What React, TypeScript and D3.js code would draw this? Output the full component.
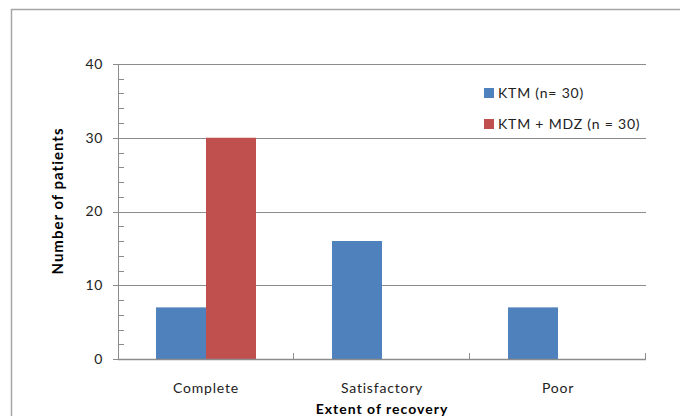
import React, { useEffect, useRef } from "react";
import * as d3 from "d3";

// data
const categories: string[] = ["Complete", "Satisfactory", "Poor"];
const seriesNames: string[] = ["KTM (n= 30)", "KTM + MDZ (n = 30)"];
const ktmValues: number[] = [7, 16, 7];
const ktmMdzValues: number[] = [30, 0, 0];
const yTicks: number[] = [0, 10, 20, 30, 40];
const yMinorTicks: number[] = d3.range(0, 41, 2);

const colors = ["#4F81BD", "#C0504D"];
const font = "Lato, 'Open Sans', sans-serif";

export default function App() {
    const ref = useRef<SVGSVGElement | null>(null);

    useEffect(() => {
        const svg = d3.select(ref.current);
        svg.selectAll("*").remove();

        const margin = { top: 64, right: 34, bottom: 57, left: 118 };
        const W = 680;
        const H = 416;
        const width = W - margin.left - margin.right;
        const height = H - margin.top - margin.bottom;

        // outer chart border
        svg.append("rect")
            .attr("x", 11.5)
            .attr("y", 9.5)
            .attr("width", W + 20)
            .attr("height", H + 20)
            .attr("fill", "#fff")
            .attr("stroke", "#a6a6a6")
            .attr("stroke-width", 1.5);

        const g = svg.append("g").attr("transform", "translate(" + margin.left + "," + margin.top + ")");

        const x0 = d3.scaleBand().domain(categories).range([0, width]);
        const x1 = d3
            .scaleBand()
            .domain(seriesNames)
            .range([x0.bandwidth() * 0.2159, x0.bandwidth() * 0.7841]);
        const y = d3.scaleLinear().domain([0, 40]).range([height, 0]);

        // gridlines
        g.selectAll(".grid")
            .data(yTicks.slice(1))
            .enter()
            .append("line")
            .attr("x1", 0)
            .attr("x2", width)
            .attr("y1", d => Math.round(y(d)) + 0.5)
            .attr("y2", d => Math.round(y(d)) + 0.5)
            .attr("stroke", "#8c8c8c")
            .attr("stroke-width", 1);

        // bars
        const rows = categories.map((c, i) => ({ c, vals: [ktmValues[i], ktmMdzValues[i]] }));
        rows.forEach(row => {
            g.selectAll(null)
                .data(row.vals)
                .enter()
                .append("rect")
                .attr("x", (d, i) => x0(row.c)! + x1(seriesNames[i])!)
                .attr("y", d => y(d))
                .attr("width", x1.bandwidth())
                .attr("height", d => height - y(d))
                .attr("fill", (d, i) => colors[i]);
        });

        // y axis
        g.append("line")
            .attr("x1", 0.5)
            .attr("x2", 0.5)
            .attr("y1", 0)
            .attr("y2", height)
            .attr("stroke", "#8c8c8c");
        g.selectAll(".minor")
            .data(yMinorTicks.filter(d => d % 10 !== 0))
            .enter()
            .append("line")
            .attr("x1", 0)
            .attr("x2", 6)
            .attr("y1", d => Math.round(y(d)) + 0.5)
            .attr("y2", d => Math.round(y(d)) + 0.5)
            .attr("stroke", "#8c8c8c");
        g.selectAll(".major")
            .data(yTicks)
            .enter()
            .append("line")
            .attr("x1", -5)
            .attr("x2", 0)
            .attr("y1", d => Math.round(y(d)) + 0.5)
            .attr("y2", d => Math.round(y(d)) + 0.5)
            .attr("stroke", "#8c8c8c");
        g.selectAll(".ylab")
            .data(yTicks)
            .enter()
            .append("text")
            .attr("x", -15)
            .attr("y", d => y(d))
            .attr("dy", "0.35em")
            .attr("text-anchor", "end")
            .attr("font-family", font)
            .attr("font-size", 14)
            .attr("letter-spacing", 0.6)
            .attr("fill", "#222")
            .text(d => d);

        // x axis
        g.append("line")
            .attr("x1", 0)
            .attr("x2", width)
            .attr("y1", height + 0.5)
            .attr("y2", height + 0.5)
            .attr("stroke", "#8c8c8c")
            .attr("stroke-width", 1.5);
        g.selectAll(".xtick")
            .data(categories.slice(1).concat(["end"]))
            .enter()
            .append("line")
            .attr("x1", d => (d === "end" ? width : x0(d)!) - 0.5)
            .attr("x2", d => (d === "end" ? width : x0(d)!) - 0.5)
            .attr("y1", height - 6)
            .attr("y2", height)
            .attr("stroke", "#8c8c8c");
        g.selectAll(".xlab")
            .data(categories)
            .enter()
            .append("text")
            .attr("x", d => x0(d)! + x0.bandwidth() / 2)
            .attr("y", height + 34)
            .attr("text-anchor", "middle")
            .attr("font-family", font)
            .attr("font-size", 14)
            .attr("letter-spacing", 0.8)
            .attr("fill", "#222")
            .text(d => d);

        // axis titles
        svg.append("text")
            .attr("x", margin.left + width / 2)
            .attr("y", 414)
            .attr("text-anchor", "middle")
            .attr("font-family", font)
            .attr("font-weight", "bold")
            .attr("font-size", 14)
            .attr("letter-spacing", 1)
            .attr("fill", "#000")
            .text("Extent of recovery");
        svg.append("text")
            .attr("transform", "translate(63,201) rotate(-90)")
            .attr("text-anchor", "middle")
            .attr("font-family", font)
            .attr("font-weight", "bold")
            .attr("font-size", 15)
            .attr("letter-spacing", 1)
            .attr("fill", "#000")
            .text("Number of patients");

        // legend
        const legend = svg
            .selectAll(".legend")
            .data(seriesNames)
            .enter()
            .append("g")
            .attr("transform", (d, i) => "translate(484," + (88 + i * 31) + ")");
        legend
            .append("rect")
            .attr("width", 10)
            .attr("height", 10)
            .attr("fill", (d, i) => colors[i]);
        legend
            .append("text")
            .attr("x", 14)
            .attr("y", 5)
            .attr("dy", "0.35em")
            .attr("font-family", font)
            .attr("font-size", 14)
            .attr("letter-spacing", 0.8)
            .attr("fill", "#222")
            .text(d => d);
    }, []);

    return (
        <svg
            ref={ref}
            width={680}
            height={416}
            style={{ position: "absolute", left: 0, top: 0, background: "#fff" }}
        />
    );
}
